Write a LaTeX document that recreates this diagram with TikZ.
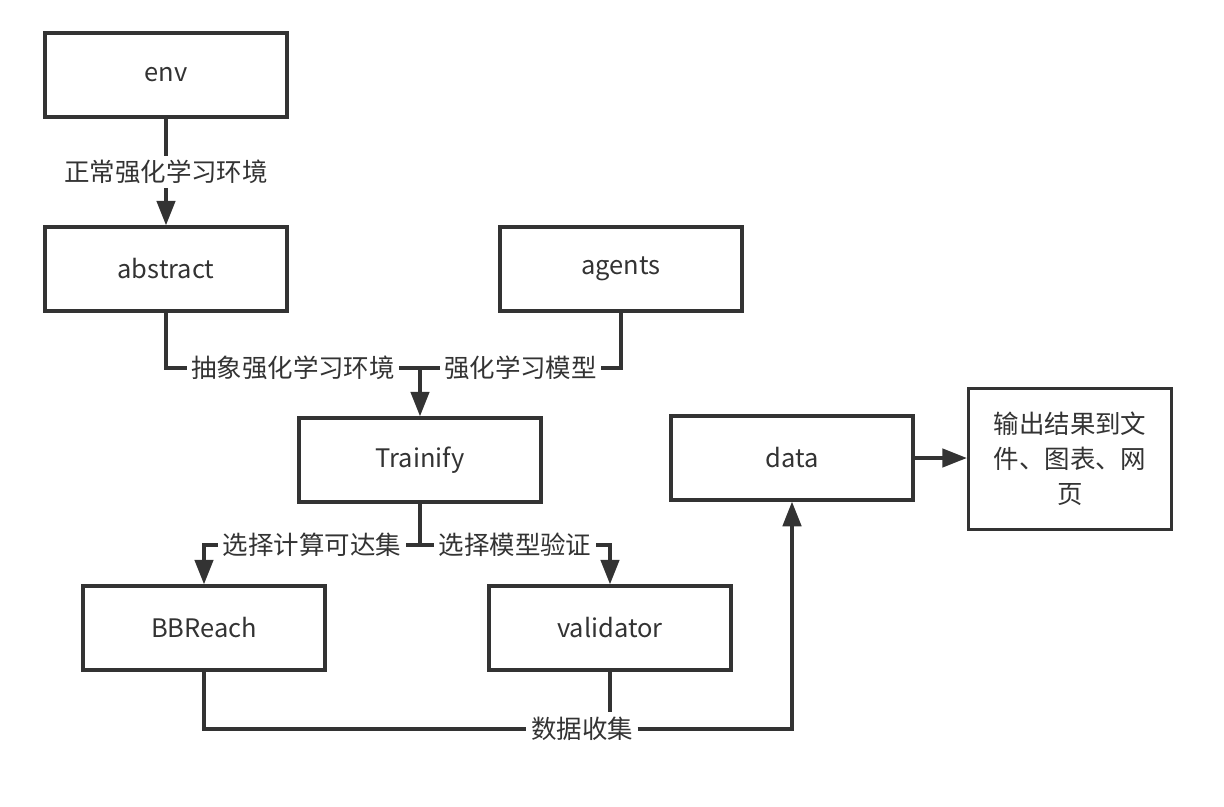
\documentclass[tikz,border=0pt]{standalone}
\usepackage{fontspec}
\setmainfont{Noto Sans CJK SC}
\usepackage{xcolor}
\usetikzlibrary{arrows.meta, positioning, calc}
\definecolor{ink}{HTML}{333333}
\tikzset{
  box/.style  = {rectangle, draw=ink, line width=1.9pt, fill=white, text=ink,
                 minimum width=4.84cm, minimum height=1.68cm, inner sep=2pt,
                 font=\fontsize{14.5}{20}\selectfont},
  lbl/.style  = {fill=white, text=ink, inner sep=2.5pt,
                 font=\fontsize{14.5}{20}\selectfont},
  wire/.style = {line width=1.9pt, draw=ink},
  arr/.style  = {-{Triangle[length=14pt,width=10.5pt]}, line width=1.9pt, draw=ink},
}

\begin{document}
\begin{tikzpicture}[x=0.02cm, y=-0.02cm]

  \useasboundingbox (0,0) rectangle (1224,806);

  % ── Modules ─────────────────────────────────────────────────────
  \node[box] (env)       at (166, 75)  {env};
  \node[box] (abs)       at (166, 269) {abstract};
  \node[box] (agents)    at (621, 269) {agents};
  \node[box] (trainify)  at (420, 460) {Trainify};
  \node[box] (bbreach)   at (204, 628) {BBReach};
  \node[box] (validator) at (610, 628) {validator};
  \node[box] (data)      at (792, 458) {data};

  % ── Output box (three lines) ────────────────────────────────────
  \node[box, minimum width=4.06cm, minimum height=2.82cm, align=center]
    (output) at (1070, 459) {输出结果到文\\件、图表、网\\页};

  % ── Junctions ───────────────────────────────────────────────────
  \coordinate (mergeT) at (420, 368);
  \coordinate (splitT) at (420, 545);

  % ── Arrows ──────────────────────────────────────────────────────
  \draw[arr] (env) -- node[lbl] {正常强化学习环境} (abs);

  \draw[wire] (abs) |- node[lbl, pos=0.75] {抽象强化学习环境} (mergeT);
  \draw[wire] (agents) |- node[lbl, pos=0.75] {强化学习模型} (mergeT);
  \draw[arr] (mergeT) -- (trainify);

  \draw[wire] (trainify) -- (splitT);
  \draw[arr] (splitT) -| node[lbl, pos=0.25] {选择计算可达集} (bbreach);
  \draw[arr] (splitT) -| node[lbl, pos=0.25] {选择模型验证} (validator);

  % data collection runs under both checkers into data
  \node[lbl] (collect) at (582, 729) {数据收集};
  \draw[wire] (bbreach) |- (collect);
  \draw[arr] (collect) -| (data);
  \draw[wire] (validator) -- (validator |- collect.north);

  \draw[arr] (data) -- (data -| output.west);

\end{tikzpicture}
\end{document}
